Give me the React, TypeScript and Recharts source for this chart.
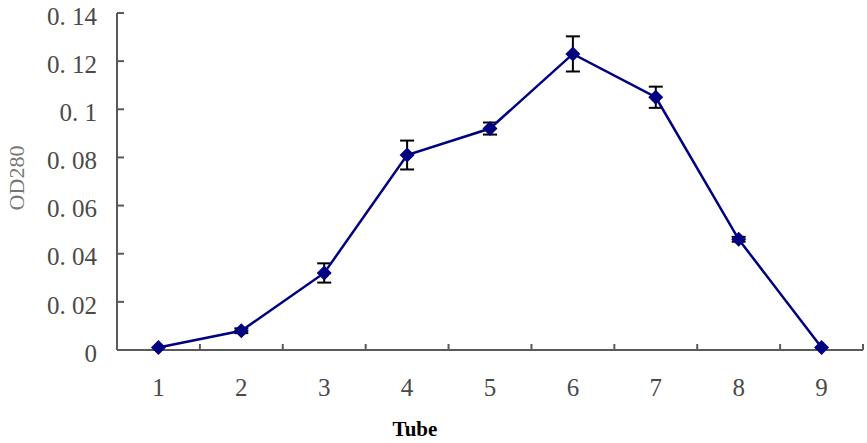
import { ErrorBar, Line, LineChart, XAxis, YAxis } from "recharts";

const tubes = [1, 2, 3, 4, 5, 6, 7, 8, 9];
const od280 = [0.001, 0.008, 0.032, 0.081, 0.092, 0.123, 0.105, 0.046, 0.001];
const od280Err = [0, 0.001, 0.004, 0.006, 0.0025, 0.0073, 0.0044, 0.001, 0];
const yTicks = [0, 0.02, 0.04, 0.06, 0.08, 0.1, 0.12, 0.14];
// integer ticks carry labels, half ticks are the little marks between categories
const xTicks = [1, 1.5, 2, 2.5, 3, 3.5, 4, 4.5, 5, 5.5, 6, 6.5, 7, 7.5, 8, 8.5, 9, 9.5];

const data = tubes.map((tube, i) => ({ tube, od: od280[i], err: od280Err[i] }));

const FONT = "'Liberation Serif', 'DejaVu Serif', serif";
const AXIS = "#5a5a5a";
const NAVY = "#000080";

function formatY(v: number) {
  return v === 0 ? "0" : String(v).replace(".", ". ");
}

function XTick(props: any) {
  const { x, y, payload } = props;
  if (Number.isInteger(payload.value)) {
    return (
      <text x={x} y={y} dy="0.71em" textAnchor="middle" fontFamily={FONT} fontSize={25} fill="#4a4a4a">
        {payload.value}
      </text>
    );
  }
  return <line x1={x} x2={x} y1={y - 28} y2={y - 34} stroke={AXIS} strokeWidth={2} />;
}

function YTick(props: any) {
  const { x, y, payload } = props;
  return (
    <g>
      <line x1={x + 20} x2={x + 27} y1={y} y2={y} stroke={AXIS} strokeWidth={2} />
      <text x={x} y={y + 3} dy="0.35em" textAnchor="end" fontFamily={FONT} fontSize={25} fill="#4a4a4a">
        {formatY(payload.value)}
      </text>
    </g>
  );
}

function Diamond(props: any) {
  const { cx, cy } = props;
  if (cx == null || cy == null) return null;
  const r = 7.5;
  return <polygon points={`${cx},${cy - r} ${cx + r},${cy} ${cx},${cy + r} ${cx - r},${cy}`} fill={NAVY} />;
}

export default function App() {
  return (
    <div style={{ width: 867, height: 443 }}>
      <style>{"body{margin:0}"}</style>
      <LineChart width={867} height={443} data={data} margin={{ top: 13, right: 4, left: 0, bottom: 0 }}>
        <XAxis
          dataKey="tube"
          type="number"
          domain={[0.5, 9.5]}
          ticks={xTicks}
          interval={0}
          height={93}
          tickSize={0}
          tickMargin={28}
          tickLine={false}
          tick={<XTick />}
          axisLine={{ stroke: AXIS, strokeWidth: 2 }}
          label={{
            content: () => (
              <text x={415} y={436} textAnchor="middle" fontFamily={FONT} fontWeight="bold" fontSize={21} fill="#000">
                Tube
              </text>
            ),
          }}
        />
        <YAxis
          type="number"
          domain={[0, 0.14]}
          ticks={yTicks}
          interval={0}
          width={117}
          tickSize={0}
          tickMargin={20}
          tickLine={false}
          tick={<YTick />}
          axisLine={{ stroke: AXIS, strokeWidth: 2 }}
          label={{
            content: () => (
              <text
                x={16}
                y={178}
                transform="rotate(-90 16 178)"
                textAnchor="middle"
                dominantBaseline="central"
                fontFamily={FONT}
                fontSize={22}
                fill="#777"
              >
                OD280
              </text>
            ),
          }}
        />
        <Line
          dataKey="od"
          stroke={NAVY}
          strokeWidth={2.5}
          dot={<Diamond />}
          activeDot={false}
          isAnimationActive={false}
        >
          <ErrorBar dataKey="err" width={7} stroke="#000" strokeWidth={2} direction="y" isAnimationActive={false} />
        </Line>
      </LineChart>
    </div>
  );
}
